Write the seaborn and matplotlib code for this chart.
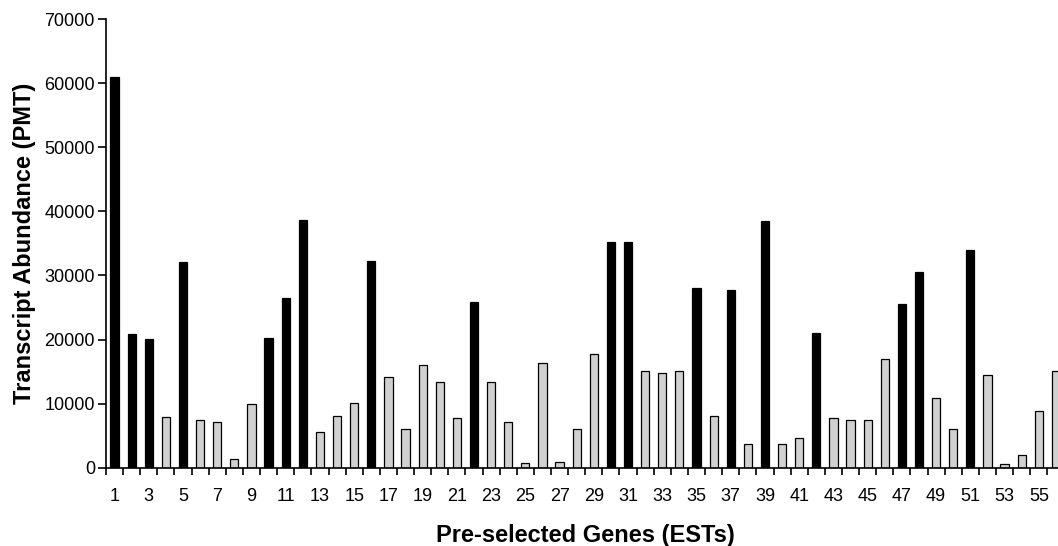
import numpy as np
import pandas as pd
import matplotlib
matplotlib.use("Agg")
import matplotlib.pyplot as plt
import seaborn as sns

# Adatok: 56 előre kiválasztott gén (EST), átirat-mennyiség PMT-ben
genes = list(range(1, 57))
abundance = [61000, 20800, 20100, 7900, 32100, 7500, 7200, 1300, 9900, 20300,
             26500, 38700, 5500, 8100, 10100, 32300, 14200, 6100, 16000, 13300,
             7700, 25800, 13300, 7200, 700, 16400, 900, 6100, 17700, 35200,
             35200, 15100, 14800, 15100, 28000, 8100, 27800, 3700, 38500, 3700,
             4600, 21000, 7700, 7500, 7500, 17000, 25600, 30600, 10900, 6100,
             33900, 14400, 500, 2000, 8900, 15100]
black_genes = [1, 2, 3, 5, 10, 11, 12, 16, 22, 30, 31, 35, 37, 39, 42, 47, 48, 51]
y_ticks = [0, 10000, 20000, 30000, 40000, 50000, 60000, 70000]

df = pd.DataFrame({
    "gene": [str(g) for g in genes],
    "abundance": abundance,
    "group": ["black" if g in black_genes else "gray" for g in genes],
})

sns.set_style("ticks")
plt.rcParams["font.family"] = ["Liberation Sans", "DejaVu Sans"]
plt.rcParams["text.color"] = "black"
plt.rcParams["axes.labelcolor"] = "black"
plt.rcParams["xtick.color"] = "black"
plt.rcParams["ytick.color"] = "black"
plt.rcParams["axes.edgecolor"] = "black"

fig = plt.figure(figsize=(10.58, 5.46), dpi=100)
ax = fig.add_axes([106 / 1058, 1 - 467.7 / 546, (1064.5 - 106) / 1058, (467.7 - 19) / 546])

sns.barplot(data=df, x="gene", y="abundance", hue="group",
            palette={"black": "#000000", "gray": "#d0d0d0"},
            order=df["gene"], dodge=False, width=0.48,
            edgecolor="black", linewidth=0.9, legend=False, ax=ax)

ax.set_xlim(-0.5, 55.5)
ax.set_ylim(0, 70000)
ax.set_yticks(y_ticks)
ax.set_yticklabels([str(v) for v in y_ticks], fontsize=13)
ax.set_xticks(range(0, 56, 2))
ax.set_xticklabels([str(g) for g in genes[::2]], fontsize=13)
ax.set_xticks(np.arange(-0.5, 56, 1), minor=True)
ax.tick_params(axis="x", which="major", length=0, pad=14.5)
ax.tick_params(axis="x", which="minor", length=5, width=1.2, color="black")
ax.tick_params(axis="y", length=6, width=1.2, color="black", pad=2)

sns.despine(ax=ax)
ax.spines["left"].set_linewidth(1.2)
ax.spines["bottom"].set_linewidth(1.2)

ax.set_xlabel("Pre-selected Genes (ESTs)", fontsize=17, fontweight="bold", labelpad=14)
ax.set_ylabel("Transcript Abundance (PMT)", fontsize=17, fontweight="bold", labelpad=6)

fig.savefig("out.png", dpi=100)
plt.close()
